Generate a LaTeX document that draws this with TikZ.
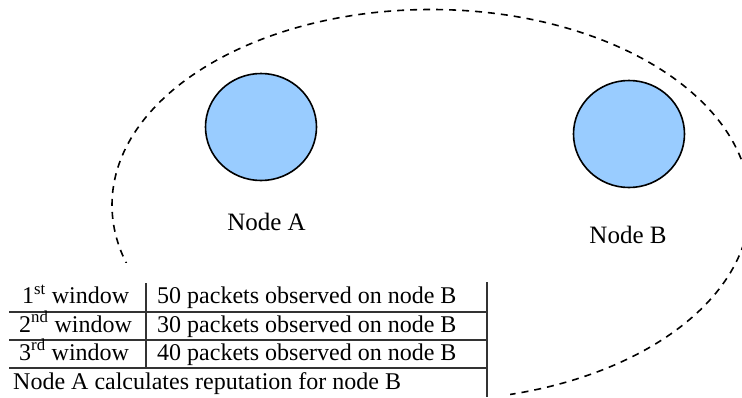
\documentclass[tikz,border=0pt]{standalone}
\usepackage{fontspec}
\setmainfont{Liberation Serif}
\newfontfamily\timesface{Liberation Serif}
\definecolor{nodefill}{HTML}{99CCFF}
\definecolor{rulegrey}{HTML}{333333}
\tikzset{
  peer/.style={draw=black, line width=1.6pt, fill=nodefill, ellipse, minimum width=111pt, minimum height=107pt, inner sep=0pt},
  rangeline/.style={draw=black, line width=1.6pt, dash pattern=on 7pt off 6pt},
  caption/.style={font=\timesface\fontsize{25}{28}\selectfont, inner sep=0pt, anchor=base},
  celltext/.style={font=\timesface\fontsize{24}{27}\selectfont, inner sep=0pt, anchor=base west},
  rule/.style={draw=rulegrey, line width=1.6pt},
}
\usetikzlibrary{shapes.geometric}
\begin{document}
\begin{tikzpicture}[x=1pt, y=-1pt]
  \useasboundingbox (0,0) rectangle (742,397);
  % communication range
  \draw[rangeline] (431,205) ellipse [x radius=319, y radius=195.5];
  % the two peers
  \node[peer] (a) at (261,127) {};
  \node[peer] (b) at (629,134) {};
  \node[caption] (la) at (266.5,230) {Node A};
  \node[caption] (lb) at (628,243) {Node B};
  % observation table on a white panel
  \fill[white] (-5,263) rectangle (510,405);
  \coordinate (mid) at (146,283);
  \coordinate (tr) at (487,282);
  \draw[rule] (mid) -- (146,368);
  \draw[rule] (tr) -- (487,397);
  \draw[rule] (9,312) -- (487,312);
  \draw[rule] (9,340) -- (487,340);
  \draw[rule] (9,368) -- (487,368);
  \node[celltext] (w1) at (22,303.5) {1\textsuperscript{st} window};
  \node[celltext] (p1) at (157,303.5) {50 packets observed on node B};
  \node[celltext] (w2) at (19,332) {2\textsuperscript{nd} window};
  \node[celltext] (p2) at (157,332) {30 packets observed on node B};
  \node[celltext] (w3) at (19,360) {3\textsuperscript{rd} window};
  \node[celltext] (p3) at (157,360) {40 packets observed on node B};
  \node[celltext] (calc) at (13,389) {Node A calculates reputation for node B};
\end{tikzpicture}
\end{document}
